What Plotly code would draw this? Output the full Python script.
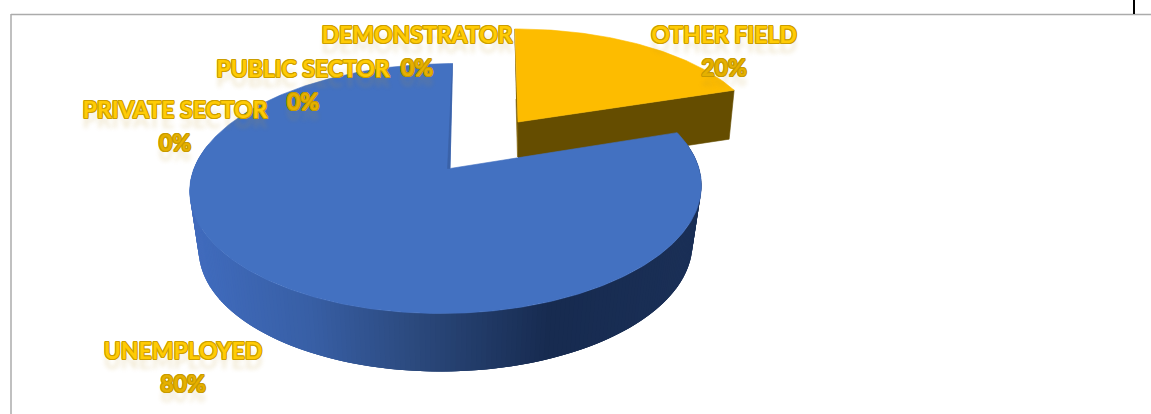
import numpy as np
import plotly.graph_objects as go

# Survey shares, clockwise from twelve o'clock
categories = ["OTHER FIELD", "UNEMPLOYED", "PRIVATE SECTOR", "PUBLIC SECTOR", "DEMONSTRATOR"]
values = [20, 80, 0, 0, 0]

# Where each label sits: (x of centre, y of name, y of percentage)
label_anchor = {
    "OTHER FIELD": (724, 37, 70),
    "UNEMPLOYED": (183, 353, 386),
    "PRIVATE SECTOR": (175, 112, 145),
    "PUBLIC SECTOR": (303, 71, 104),
    "DEMONSTRATOR": (417, 37, 70),
}

W, H = 1151, 414
PERSPECTIVE = 0.16

# Exploded slices, each with its own projected centre
blue = dict(cx=446.5, cy=168.5, apex=450, ax=252.5, ay=121.8, skew=6)
gold = dict(cx=518, cy=122, apex=518, ax=239.5, ay=108, skew=-3)
BLUE_DEPTH, BLUE_TAPER = 58, 0.965
GOLD_DEPTH, GOLD_SHIFT = 49, -5

BLUE_TOP, GOLD_TOP, GOLD_SIDE = "#4371C1", "#FDBC00", "#654D00"
BLUE_SIDE_STOPS = [(198, (64, 107, 188)), (300, (56, 95, 165)), (400, (44, 74, 126)),
                   (540, (23, 43, 80)), (700, (27, 48, 87))]


def rim(theta, s, depth=0.0, taper=1.0, shift=0.0):
    x, y = np.sin(theta), np.cos(theta)
    den = 1 + PERSPECTIVE * y
    return (s["cx"] + taper * s["ax"] * x / den + s["skew"] * y + shift,
            s["cy"] - s["ay"] * y / den + depth)


def polygon(xs, ys, color, edge=0.6):
    return go.Scatter(x=xs, y=ys, mode="lines", fill="toself", fillcolor=color,
                      line=dict(color=color, width=edge), hoverinfo="skip", showlegend=False)


def side_color(u):
    xs = [p[0] for p in BLUE_SIDE_STOPS]
    rgb = [np.interp(u, xs, [p[1][i] for p in BLUE_SIDE_STOPS]) for i in range(3)]
    return "rgb(%d,%d,%d)" % tuple(rgb)


# Slice angles follow directly from the shares
total = sum(values)
gold_sweep = 2 * np.pi * values[categories.index("OTHER FIELD")] / total
blue_sweep = 2 * np.pi * values[categories.index("UNEMPLOYED")] / total
g_t = np.linspace(0, gold_sweep, 80)
b_t = np.linspace(gold_sweep, gold_sweep + blue_sweep, 400)

traces = []

# Gold slice: cut face, a sliver of the inner wall, then the top
ex, ey = rim(gold_sweep, gold)
ex2, ey2 = rim(gold_sweep, gold, GOLD_DEPTH, shift=GOLD_SHIFT)
traces.append(polygon([gold["apex"], ex, ex2, gold["apex"]],
                      [gold["cy"], ey, ey2, gold["cy"] + GOLD_DEPTH], GOLD_SIDE))
sx, sy = rim(0.0, gold)
traces.append(polygon([sx - 0.5, gold["apex"], gold["apex"] - 0.5, sx + 1.0],
                      [sy, gold["cy"], gold["cy"] + 35, sy + 70], "#7A5C00"))
gx, gy = rim(g_t, gold)
traces.append(polygon([gold["apex"]] + list(gx) + [gold["apex"]],
                      [gold["cy"]] + list(gy) + [gold["cy"]], GOLD_TOP))

# Blue slice: curved wall as overlapping shaded strips painted right to left,
# each one running under its neighbour so no seams show, then the top
edges = np.linspace(gold_sweep, gold_sweep + blue_sweep, 289)
step = edges[1] - edges[0]
for a, b in zip(edges[:-1], edges[1:]):
    if np.cos((a + b) / 2) > 0.2:
        continue
    arc = np.linspace(max(a - 2 * step, gold_sweep), b, 4)
    tx, ty = rim(arc, blue)
    lx, ly = rim(arc, blue, BLUE_DEPTH, BLUE_TAPER)
    x1, _ = rim(b, blue)
    traces.append(polygon(list(tx) + list(lx[::-1]) + [tx[0]],
                          list(ty) + list(ly[::-1]) + [ty[0]], side_color(x1), edge=0))

bx, by = rim(b_t, blue)
traces.append(polygon([blue["apex"]] + list(bx) + [blue["apex"]],
                      [blue["cy"]] + list(by) + [blue["cy"]], BLUE_TOP))
ux, uy = rim(2 * np.pi, blue)
traces.append(polygon([ux, blue["apex"], blue["apex"] - 2.5, ux - 1.0],
                      [uy, blue["cy"], blue["cy"], uy + 20], "#3A62A8"))

# Glossy gold lettering: tight outline plus a soft fade underneath
def lettering(edge, fade):
    ring = ", ".join(f"{dx}px {dy}px 0.5px {edge}" for dx, dy in
                     [(1, 0), (-1, 0), (0, 1), (0, -1), (0.8, 0.8), (-0.8, 0.8), (0.8, -0.8), (-0.8, -0.8)])
    return f"{ring}, 0 10px 4px {fade}"


for name, val in zip(categories, values):
    cx, y_name, y_pct = label_anchor[name]
    traces.append(go.Scatter(
        x=[cx], y=[y_name], mode="text", text=[name], hoverinfo="skip", showlegend=False, cliponaxis=False,
        textfont=dict(family="Lato", size=23, weight=700, color="#FFCB05",
                      shadow=lettering("#CC9E00", "rgba(190,150,40,0.2)"))))
    traces.append(go.Scatter(
        x=[cx], y=[y_pct], mode="text", text=[f"{val}%"], hoverinfo="skip", showlegend=False, cliponaxis=False,
        textfont=dict(family="Lato", size=23, weight=700, color="#E5B000",
                      shadow=lettering("#C79A00", "rgba(190,150,40,0.2)"))))

fig = go.Figure(traces)
fig.update_layout(
    width=W, height=H, margin=dict(l=0, r=0, t=0, b=0),
    paper_bgcolor="white", plot_bgcolor="white", showlegend=False,
    xaxis=dict(range=[0, W], visible=False, fixedrange=True),
    yaxis=dict(range=[H, 0], visible=False, fixedrange=True),
    shapes=[
        dict(type="line", x0=11, x1=W, y0=14.5, y1=14.5, line=dict(color="#ABABAB", width=1.5)),
        dict(type="line", x0=11, x1=11, y0=14, y1=H, line=dict(color="#ABABAB", width=1.5)),
        dict(type="line", x0=1134, x1=1134, y0=0, y1=14, line=dict(color="#000000", width=2)),
    ],
)
fig.write_html("out.html")
